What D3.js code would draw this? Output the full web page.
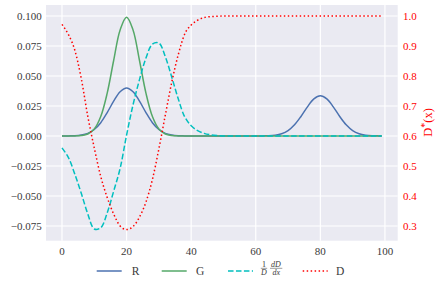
<!DOCTYPE html>
<html>
<head>
<meta charset="utf-8">
<script src="https://cdn.jsdelivr.net/npm/d3@7"></script>
<style>
    body { margin: 0; background: #fff; }
    svg { display: block; }
</style>
</head>
<body>
<div id="chart-div"></div>
<script>
//---------------------------------//
// Data     //
//---------------------------------//

var xs = [0, 2, 4, 6, 8, 10, 12, 14, 16, 18,
          20, 22, 24, 26, 28, 30, 32, 34, 36, 38,
          40, 42, 44, 46, 48, 50, 52, 54, 56, 58,
          60, 62, 64, 66, 68, 70, 72, 74, 76, 78,
          80, 82, 84, 86, 88, 90, 92, 94, 96, 98, 99];

var rVals = [0, 0.0001, 0.0002, 0.0008, 0.0022, 0.0054, 0.0111, 0.0195, 0.0290, 0.0369,
             0.0400, 0.0369, 0.0290, 0.0195, 0.0111, 0.0054, 0.0022, 0.0008, 0.0002, 0.0001,
             0, 0, 0, 0, 0, 0, 0, 0, 0, 0,
             0, 0.0001, 0.0002, 0.0007, 0.0019, 0.0045, 0.0093, 0.0163, 0.0243, 0.0309,
             0.0335, 0.0309, 0.0243, 0.0163, 0.0093, 0.0045, 0.0019, 0.0007, 0.0002, 0.0001, 0.0001];

var gVals = [0, 0, 0.0001, 0.0004, 0.0017, 0.0058, 0.0162, 0.0357, 0.0629, 0.0884,
             0.0990, 0.0884, 0.0629, 0.0357, 0.0162, 0.0058, 0.0017, 0.0004, 0.0001, 0,
             0, 0, 0, 0, 0, 0, 0, 0, 0, 0,
             0, 0, 0, 0, 0, 0, 0, 0, 0, 0,
             0, 0, 0, 0, 0, 0, 0, 0, 0, 0, 0];

var dLogVals = [-0.0099, -0.018, -0.032, -0.048, -0.065, -0.0775, -0.0765, -0.064, -0.046, -0.027,
                0.0008, 0.026, 0.047, 0.065, 0.0765, 0.0775, 0.066, 0.049, 0.031, 0.016,
                0.0085, 0.0045, 0.0022, 0.001, 0.0004, 0.0001, 0, 0, 0, 0,
                0, 0, 0, 0, 0, 0, 0, 0, 0, 0,
                0, 0, 0, 0, 0, 0, 0, 0, 0, 0, 0];

var dVals = [0.972, 0.938, 0.885, 0.790, 0.665, 0.560, 0.465, 0.395, 0.340, 0.300,
             0.288, 0.298, 0.330, 0.380, 0.455, 0.557, 0.670, 0.780, 0.871, 0.940,
             0.970, 0.986, 0.995, 0.998, 0.999, 1.0, 1.0, 1.0, 1.0, 1.0,
             1.0, 1.0, 1.0, 1.0, 1.0, 1.0, 1.0, 1.0, 1.0, 1.0,
             1.0, 1.0, 1.0, 1.0, 1.0, 1.0, 1.0, 1.0, 1.0, 1.0, 1.0];

var xTicks = [0, 20, 40, 60, 80, 100];
var yTicks = [-0.075, -0.050, -0.025, 0.000, 0.025, 0.050, 0.075, 0.100];
var dTicks = [0.3, 0.4, 0.5, 0.6, 0.7, 0.8, 0.9, 1.0];

var legendLabels = ['R', 'G', '', 'D'];


//---------------------------------//
// Visualisation Object            //
//---------------------------------//

window.Vis = window.Vis || {};

Vis.init = function() {
    Vis.setup.initConsts();
    Vis.setup.initGraph();
    Vis.core.drawGrid();
    Vis.core.drawLines();
    Vis.core.drawAxes();
    Vis.core.drawLegend();
};

Vis.core = {
    drawGrid: function() {
        Vis.svg.append('rect')
            .attr('x', Vis.left).attr('y', Vis.top)
            .attr('width', Vis.right - Vis.left)
            .attr('height', Vis.bottom - Vis.top)
            .attr('fill', '#eaeaf2');

        Vis.svg.selectAll('.vgrid').data(xTicks).enter().append('line')
            .attr('x1', d => Vis.xScale(d)).attr('x2', d => Vis.xScale(d))
            .attr('y1', Vis.top).attr('y2', Vis.bottom)
            .attr('stroke', '#fff').attr('stroke-width', 1.2);

        Vis.svg.selectAll('.hgrid').data(yTicks).enter().append('line')
            .attr('x1', Vis.left).attr('x2', Vis.right)
            .attr('y1', d => Vis.yScale(d)).attr('y2', d => Vis.yScale(d))
            .attr('stroke', '#fff').attr('stroke-width', 1.2);
    },

    drawLines: function() {
        var series = [
            {vals: rVals, scale: Vis.yScale, color: '#4c72b0', dash: null, curve: d3.curveCatmullRom},
            {vals: gVals, scale: Vis.yScale, color: '#55a868', dash: null, curve: d3.curveCatmullRom},
            {vals: dLogVals, scale: Vis.yScale, color: '#00bfbf', dash: '5.55,2.4', curve: d3.curveCatmullRom},
            {vals: dVals, scale: Vis.dScale, color: '#ff0000', dash: '1.5,2.475', curve: d3.curveMonotoneX}
        ];

        series.forEach(function(s) {
            var line = d3.line()
                .x((d, i) => Vis.xScale(xs[i]))
                .y(d => s.scale(d))
                .curve(s.curve);

            Vis.svg.append('path')
                .datum(s.vals)
                .attr('d', line)
                .attr('fill', 'none')
                .attr('stroke', s.color)
                .attr('stroke-width', 1.5)
                .attr('stroke-dasharray', s.dash);
        });
    },

    drawAxes: function() {
        var fmtLeft = d3.format('.3f');
        var fmtRight = d3.format('.1f');

        // x tick labels
        Vis.svg.selectAll('.xlab').data(xTicks).enter().append('text')
            .attr('x', d => Vis.xScale(d)).attr('y', 254.5)
            .attr('text-anchor', 'middle')
            .attr('font-size', Vis.fontSize).attr('fill', Vis.textColor)
            .text(d => d);

        // left tick labels
        Vis.svg.selectAll('.ylab').data(yTicks).enter().append('text')
            .attr('x', 41.7).attr('y', d => Vis.yScale(d) + 3.8)
            .attr('text-anchor', 'end')
            .attr('font-size', Vis.fontSize).attr('fill', Vis.textColor)
            .text(d => fmtLeft(d));

        // right tick labels (red)
        Vis.svg.selectAll('.dlab').data(dTicks).enter().append('text')
            .attr('x', 403).attr('y', d => Vis.dScale(d) + 3.8)
            .attr('font-size', Vis.fontSize).attr('fill', '#ff0000')
            .text(d => fmtRight(d));

        var lab = Vis.svg.append('text')
            .attr('transform', 'translate(431.5,122.5) rotate(-90)')
            .attr('text-anchor', 'middle')
            .attr('font-size', 12.5).attr('fill', '#ff0000');
        lab.append('tspan').text('D');
        lab.append('tspan').attr('dy', -3.5).attr('font-size', 10).text('*');
        lab.append('tspan').attr('dy', 3.5).text('(x)');
    },

    drawLegend: function() {
        var ly = 271;
        var handleX = [96.7, 161.7, 228, 302.7];
        var labelX = [131.7, 196, 260, 336];
        var colors = ['#4c72b0', '#55a868', '#00bfbf', '#ff0000'];
        var dashes = [null, null, '5.55,2.4', '1.5,2.475'];

        legendLabels.forEach(function(l, i) {
            Vis.svg.append('line')
                .attr('x1', handleX[i]).attr('x2', handleX[i] + 25)
                .attr('y1', ly).attr('y2', ly)
                .attr('stroke', colors[i]).attr('stroke-width', 1.5)
                .attr('stroke-dasharray', dashes[i]);

            if (l) {
                Vis.svg.append('text')
                    .attr('x', labelX[i]).attr('y', ly + 4)
                    .attr('font-size', Vis.fontSize + 0.5).attr('fill', Vis.textColor)
                    .text(l);
            }
        });

        // fraction label 1/D dD/dx
        var fy = 268.3;
        var frac = Vis.svg.append('g')
            .attr('font-size', 8).attr('fill', Vis.textColor)
            .attr('text-anchor', 'middle');
        frac.append('text').attr('x', 264).attr('y', fy - 1.5).text('1');
        frac.append('text').attr('x', 264).attr('y', fy + 6.5).attr('font-style', 'italic').text('D');
        frac.append('text').attr('x', 276).attr('y', fy - 1.5).attr('font-style', 'italic').text('dD');
        frac.append('text').attr('x', 276.3).attr('y', fy + 6.5).attr('font-style', 'italic').text('dx');
        frac.append('line').attr('x1', 260.8).attr('x2', 267.2)
            .attr('y1', fy).attr('y2', fy).attr('stroke', Vis.textColor).attr('stroke-width', 0.5);
        frac.append('line').attr('x1', 270).attr('x2', 282.3)
            .attr('y1', fy).attr('y2', fy).attr('stroke', Vis.textColor).attr('stroke-width', 0.5);
    }
};

Vis.setup = {
    initConsts: function() {
        Vis.width = 440;
        Vis.height = 288;

        Vis.left = 46;
        Vis.right = 397.7;
        Vis.top = 5;
        Vis.bottom = 240.7;

        Vis.fontSize = 11;
        Vis.textColor = '#3a3a3a';
    },

    initGraph: function() {
        Vis.svg = d3.select('#chart-div')
                    .append('svg')
                     .attr('width', Vis.width)
                     .attr('height', Vis.height)
                     .attr('font-family', '"Liberation Serif", serif');

        Vis.xScale = d3.scaleLinear()
                       .domain([-4.95, 103.95])
                       .range([Vis.left, Vis.right]);
        Vis.yScale = d3.scaleLinear()
                       .domain([-0.08725, 0.10917])
                       .range([Vis.bottom, Vis.top]);
        Vis.dScale = d3.scaleLinear()
                       .domain([0.251, 1.0367])
                       .range([Vis.bottom, Vis.top]);
    }
};

document.addEventListener('DOMContentLoaded', Vis.init);
</script>
</body>
</html>
